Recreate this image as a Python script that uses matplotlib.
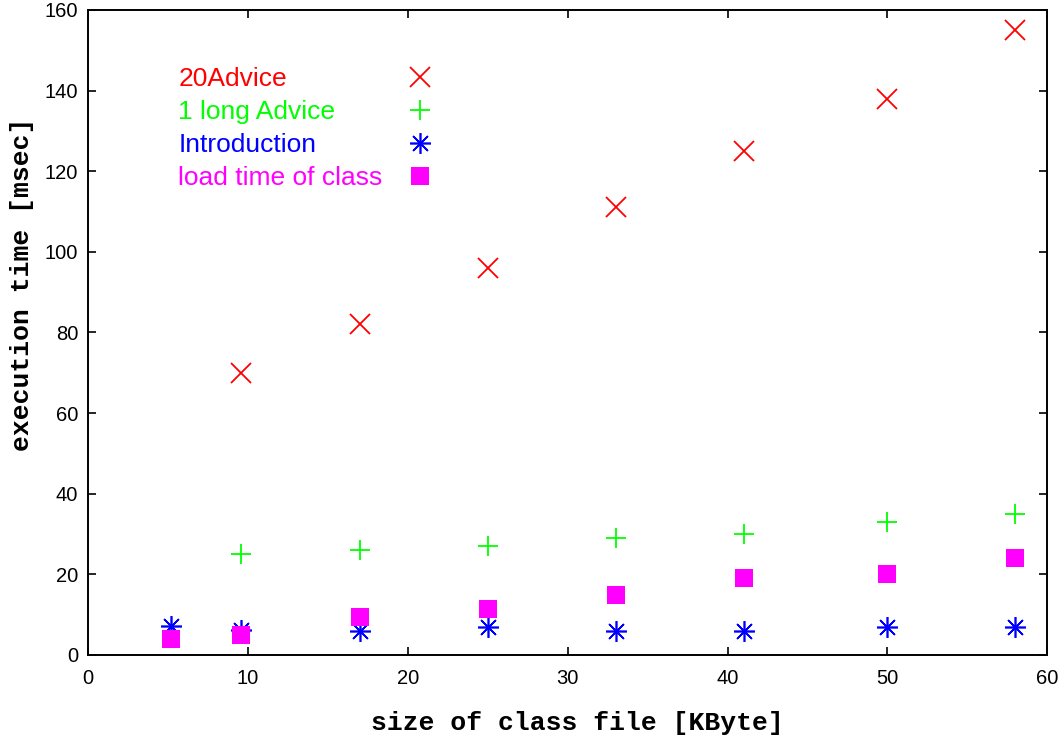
import matplotlib
matplotlib.use('Agg')
import matplotlib.pyplot as plt

# class file size [KByte]
size_kb = [9.6, 17, 25, 33, 41, 50, 58]
size_kb_small = [5.2, 9.6, 17, 25, 33, 41, 50, 58]

advice20 = [70, 82, 96, 111, 125, 138, 155]
long_advice = [25, 26, 27, 29, 30, 33, 35]
introduction = [7.3, 6.3, 6, 7, 6, 6, 7, 7]
load_time = [4, 5, 9.5, 11.5, 15, 19, 20, 24]

labels = ['20Advice', '1 long Advice', 'Introduction', 'load time of class']
colors = ['#ff0000', '#00ff00', '#0000ff', '#ff00ff']

plt.rcParams['font.family'] = ['Liberation Sans', 'DejaVu Sans']

fig = plt.figure(figsize=(10.6, 7.38), dpi=100)
ax = fig.add_axes([0.083, 0.1125, 0.905, 0.874])

h1, = ax.plot(size_kb, advice20, ls='none', marker='x', color=colors[0], ms=14, mew=1.3)
h2, = ax.plot(size_kb, long_advice, ls='none', marker='+', color=colors[1], ms=15, mew=1.3)
h3, = ax.plot(size_kb_small, introduction, ls='none', marker=(8, 2, 0), color=colors[2], ms=15, mew=1.2)
h4, = ax.plot(size_kb_small, load_time, ls='none', marker='s', color=colors[3], ms=12.5, mew=0)
handles = [h1, h2, h3, h4]

ax.set_xlim(0, 60)
ax.set_ylim(0, 160)
ax.set_xticks(range(0, 61, 10))
ax.set_yticks(range(0, 161, 20))
ax.tick_params(direction='in', length=6, width=1.2, labelsize=14.5, top=True, right=True)
ax.tick_params(axis='x', pad=10)
ax.tick_params(axis='y', pad=7)
for s in ax.spines.values():
    s.set_linewidth(1.4)

lab_font = dict(family=['Liberation Mono', 'DejaVu Sans Mono'], weight='bold', size=19)
ax.set_xlabel('size of class file [KByte]', va='center', **lab_font)
ax.set_ylabel('execution time [msec]', va='center', **lab_font)
ax.xaxis.set_label_coords(0.51, -0.105)
ax.yaxis.set_label_coords(-0.069, 0.574)

# legend: texts on the left, symbols in a column on the right
leg_txt = ax.legend(handles, labels, loc='upper left', bbox_to_anchor=(0.094, 0.911),
                    frameon=False, fontsize=19, labelcolor=colors,
                    handlelength=0, handletextpad=0, labelspacing=0.34, borderaxespad=0,
                    borderpad=0)
for lh in leg_txt.legend_handles:
    lh.set_visible(False)
ax.add_artist(leg_txt)
ax.legend(handles, ['', '', '', ''], loc='upper left', bbox_to_anchor=(0.332, 0.911),
          frameon=False, fontsize=19, handlelength=1.0, handletextpad=0,
          labelspacing=0.34, borderaxespad=0, borderpad=0)

fig.savefig('out.png', dpi=100)
